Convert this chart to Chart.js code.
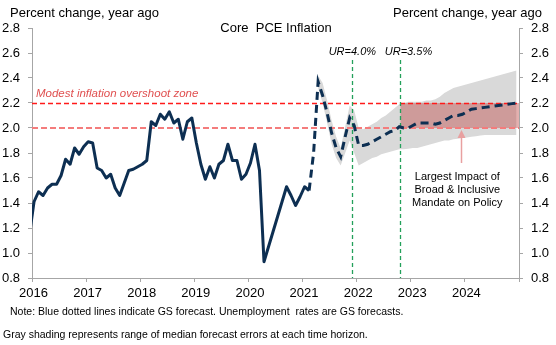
<!DOCTYPE html>
<html>
<head>
<meta charset="utf-8">
<script src="https://cdn.jsdelivr.net/npm/chart.js@4/dist/chart.umd.min.js"></script>
<style>
  html, body { margin: 0; padding: 0; background: #fff; }
</style>
</head>
<body>
<canvas id="chart" width="556" height="345"></canvas>
<script>
// month index 0 = Jan 2016
var actualStartMonth = -1;   // Dec 2015
var actualValues = [
    1.15,
    1.41, 1.49, 1.46, 1.52, 1.55, 1.55, 1.62, 1.75, 1.71, 1.84, 1.79, 1.85,
    1.89, 1.88, 1.68, 1.66, 1.60, 1.63, 1.52, 1.46, 1.56, 1.66, 1.67, 1.69,
    1.71, 1.74, 2.05, 2.02, 2.11, 2.07, 2.13, 2.04, 2.07, 1.91, 2.05, 2.08,
    1.88, 1.71, 1.59, 1.69, 1.60, 1.71, 1.74, 1.87, 1.74, 1.74, 1.59, 1.63,
    1.72, 1.87, 1.66, 0.93, 1.05, 1.17, 1.29, 1.41, 1.53, 1.46, 1.38, 1.45,
    1.53, 1.50
];

var forecastStartMonth = 61;  // Feb 2021
var forecastValues = [
    1.50, 1.80, 2.37, 2.26, 2.12, 1.96, 1.84, 1.77, 1.93, 2.08, 2.02,
    1.86, 1.86, 1.87, 1.89, 1.91, 1.93, 1.95, 1.97, 1.98, 2.01, 2.00, 2.00,
    2.02, 2.04, 2.04, 2.04, 2.04, 2.03, 2.04, 2.06, 2.08, 2.10, 2.10, 2.11,
    2.13, 2.15, 2.155, 2.16, 2.165, 2.17, 2.175, 2.18, 2.185, 2.19, 2.195, 2.20
];

var bandStartMonth = 63;  // Apr 2021
var bandHigh = [
    2.42, 2.36, 2.22, 2.06, 1.93, 1.84, 2.01, 2.18, 2.14,
    2.00, 1.99, 2.01, 2.03, 2.05, 2.08, 2.10, 2.13, 2.16, 2.19, 2.20, 2.21,
    2.21, 2.21, 2.21, 2.22, 2.22, 2.23, 2.25, 2.28, 2.30, 2.32, 2.33, 2.34,
    2.35, 2.36, 2.37, 2.38, 2.39, 2.40, 2.41, 2.42, 2.43, 2.44, 2.45, 2.46
];
var bandLow = [
    2.32, 2.20, 2.04, 1.87, 1.76, 1.70, 1.80, 1.90, 1.80,
    1.70, 1.72, 1.74, 1.76, 1.77, 1.79, 1.80, 1.81, 1.82, 1.83, 1.83, 1.835,
    1.84, 1.84, 1.85, 1.86, 1.87, 1.88, 1.89, 1.90, 1.90, 1.91, 1.915, 1.92,
    1.925, 1.93, 1.935, 1.94, 1.945, 1.945, 1.945, 1.945, 1.945, 1.945, 1.945, 1.945
];

var xYears = [2016, 2017, 2018, 2019, 2020, 2021, 2022, 2023, 2024];
var overshootZone = [2.0, 2.2];
var urLines = [2021.92, 2022.81];
var urLabels = ["UR=4.0%", "UR=3.5%"];
var mandateBoxStart = 2022.81;

var FONT = "'Liberation Sans', Arial, sans-serif";
var NAVY = "#0d2f52";

function monthToX(m) {
    return 2016 + (m + 0.45) / 12;
}

function toPoints(startMonth, values) {
    return values.map(function (v, i) {
        return { x: monthToX(startMonth + i), y: v };
    });
}

var drawExtras = {
    id: "drawExtras",
    beforeDatasetsDraw: function (chart) {
        var ctx = chart.ctx, xs = chart.scales.x, ys = chart.scales.y, area = chart.chartArea;
        ctx.save();

        // mandate box
        var bx = xs.getPixelForValue(mandateBoxStart);
        ctx.fillStyle = "rgba(192, 80, 77, 0.45)";
        ctx.fillRect(bx, ys.getPixelForValue(overshootZone[1]), area.right - bx,
            ys.getPixelForValue(overshootZone[0]) - ys.getPixelForValue(overshootZone[1]));

        // overshoot zone lines
        ctx.lineCap = "butt";
        ctx.strokeStyle = "#f47c7c";
        ctx.lineWidth = 2;
        ctx.setLineDash([6, 3]);
        var y0 = Math.round(ys.getPixelForValue(overshootZone[0]));
        ctx.beginPath(); ctx.moveTo(area.left, y0); ctx.lineTo(area.right, y0); ctx.stroke();

        ctx.strokeStyle = "#ff1a1a";
        ctx.lineWidth = 1.3;
        ctx.setLineDash([5, 3]);
        var y1 = Math.round(ys.getPixelForValue(overshootZone[1])) + 0.5;
        ctx.beginPath(); ctx.moveTo(area.left, y1); ctx.lineTo(area.right, y1); ctx.stroke();

        // unemployment markers
        ctx.strokeStyle = "#23a05a";
        ctx.lineWidth = 1.3;
        ctx.setLineDash([4, 3]);
        urLines.forEach(function (d) {
            var x = Math.round(xs.getPixelForValue(d)) + 0.5;
            ctx.beginPath(); ctx.moveTo(x, area.top + 32); ctx.lineTo(x, area.bottom); ctx.stroke();
        });
        ctx.restore();
    },
    afterDraw: function (chart) {
        var ctx = chart.ctx, xs = chart.scales.x, ys = chart.scales.y, area = chart.chartArea;
        ctx.save();
        ctx.fillStyle = "#000";
        ctx.textBaseline = "alphabetic";

        ctx.font = "13px " + FONT;
        ctx.textAlign = "left";
        ctx.fillText("Percent change, year ago", 10, 17);
        ctx.textAlign = "right";
        ctx.fillText("Percent change, year ago", 542, 17);
        ctx.textAlign = "center";
        ctx.fillText("Core  PCE Inflation", 276, 32);

        // overshoot label
        ctx.font = "italic 11.5px " + FONT;
        ctx.textAlign = "left";
        ctx.fillStyle = "#e05050";
        ctx.fillText("Modest inflation overshoot zone", area.left + 4, ys.getPixelForValue(overshootZone[1]) - 6);

        // UR labels
        ctx.font = "italic 11px " + FONT;
        ctx.textAlign = "center";
        ctx.fillStyle = "#000";
        urLines.forEach(function (d, i) {
            ctx.fillText(urLabels[i], xs.getPixelForValue(d) + (i === 0 ? 0 : 8), area.top + 27);
        });

        // annotation + arrow
        var ax = Math.round(xs.getPixelForValue(2023.92)) + 0.5;
        var tipY = ys.getPixelForValue(overshootZone[0]) + 2;
        ctx.strokeStyle = "#e8a0a0";
        ctx.fillStyle = "#e8a0a0";
        ctx.lineWidth = 1.5;
        ctx.beginPath(); ctx.moveTo(ax, tipY + 6); ctx.lineTo(ax, ys.getPixelForValue(1.72)); ctx.stroke();
        ctx.beginPath();
        ctx.moveTo(ax, tipY); ctx.lineTo(ax - 4, tipY + 8); ctx.lineTo(ax + 4, tipY + 8);
        ctx.closePath(); ctx.fill();

        ctx.fillStyle = "#000";
        ctx.font = "11px " + FONT;
        var tx = xs.getPixelForValue(2023.86);
        ctx.fillText("Largest Impact of", tx, 180);
        ctx.fillText("Broad & Inclusive", tx, 193);
        ctx.fillText("Mandate on Policy", tx, 205.5);

        // notes
        ctx.textAlign = "left";
        ctx.font = "10.5px " + FONT;
        ctx.fillText("Note: Blue dotted lines indicate GS forecast. Unemployment  rates are GS forecasts.", 10, 315);
        ctx.fillText("Gray shading represents range of median forecast errors at each time horizon.", 3, 338);
        ctx.restore();
    }
};

function yAxis(position, width) {
    return {
        type: "linear",
        position: position,
        min: 0.8,
        max: 2.8,
        border: { display: true, color: "#a6a6a6", width: 1 },
        grid: { drawOnChartArea: false, drawTicks: true, tickLength: 4, color: "#a6a6a6" },
        ticks: {
            stepSize: 0.2,
            padding: 8,
            color: "#000",
            font: { size: 13, family: FONT },
            callback: function (v) { return v.toFixed(1); }
        },
        afterFit: function (s) { s.width = width; }
    };
}

new Chart(document.getElementById("chart"), {
    type: "line",
    data: {
        datasets: [
            {
                data: toPoints(actualStartMonth, actualValues),
                borderColor: NAVY,
                borderWidth: 3,
                borderJoinStyle: "round",
                pointRadius: 0,
                fill: false
            },
            {
                data: toPoints(forecastStartMonth, forecastValues),
                borderColor: NAVY,
                borderWidth: 3,
                borderDash: [8, 5],
                pointRadius: 0,
                fill: false
            },
            {
                data: toPoints(bandStartMonth, bandLow),
                borderWidth: 0,
                pointRadius: 0,
                fill: false
            },
            {
                data: toPoints(bandStartMonth, bandHigh),
                borderWidth: 0,
                pointRadius: 0,
                backgroundColor: "#d9d9d9",
                fill: "-1"
            }
        ]
    },
    options: {
        responsive: false,
        animation: false,
        devicePixelRatio: 1,
        events: [],
        layout: { padding: { top: 28, left: 0, right: 0, bottom: 0 } },
        plugins: {
            legend: { display: false },
            tooltip: { enabled: false },
            title: { display: false },
            filler: { drawTime: "beforeDatasetsDraw" }
        },
        scales: {
            x: {
                type: "linear",
                min: 2016,
                max: 2025,
                border: { display: true, color: "#a6a6a6", width: 1 },
                grid: { drawOnChartArea: false, drawTicks: true, tickLength: 4, color: "#a6a6a6" },
                ticks: {
                    stepSize: 1,
                    autoSkip: false,
                    maxRotation: 0,
                    padding: 4,
                    labelOffset: 1.5,
                    color: "#000",
                    font: { size: 13, family: FONT },
                    callback: function (v) { return xYears.indexOf(v) >= 0 ? String(v) : ""; }
                },
                afterFit: function (s) { s.height = 67; }
            },
            y: yAxis("left", 32),
            y2: yAxis("right", 37)
        }
    },
    plugins: [drawExtras]
});
</script>
</body>
</html>
